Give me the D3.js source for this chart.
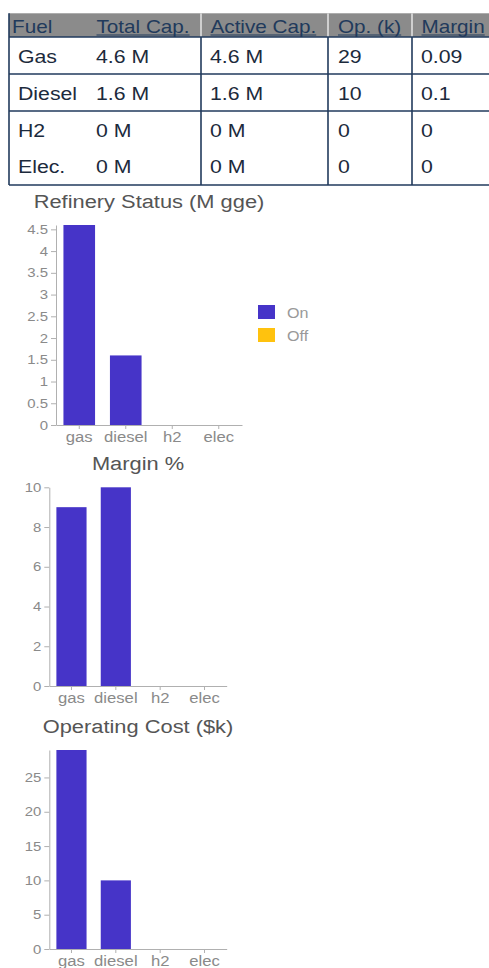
<!DOCTYPE html>
<html>
<head>
<meta charset="utf-8">
<script src="https://cdn.jsdelivr.net/npm/d3@7"></script>
<style>
  html, body { margin: 0; padding: 0; background: #fff; }
  svg { display: block; font-family: "Liberation Sans", Arial, Helvetica, sans-serif; }
</style>
</head>
<body>
<svg id="chart" width="489" height="968"></svg>
<script>
// ---------------- DATA ----------------
const tableHeaders = ["Fuel", "Total Cap.", "Active Cap.", "Op. (k)", "Margin"];
const fuelNames = ["Gas", "Diesel", "H2", "Elec."];
const totalCap = [4.6, 1.6, 0, 0];      // M gge
const activeCap = [4.6, 1.6, 0, 0];     // M gge
const opCost = [29, 10, 0, 0];          // $k
const margin = [0.09, 0.1, 0, 0];       // fraction
const categories = ["gas", "diesel", "h2", "elec"];
const statusKeys = ["On", "Off"];
const refineryTicks = [0, 0.5, 1, 1.5, 2, 2.5, 3, 3.5, 4, 4.5];
const marginTicks = [0, 2, 4, 6, 8, 10];
const costTicks = [0, 5, 10, 15, 20, 25];

// ---------------- STYLE ----------------
const S = 1.15;                 // horizontal text stretch of the reference
const navy = "#213a5c";
const bodyText = "#1c2a3c";
const barColor = "#4634c8";
const offColor = "#ffc20e";
const axisColor = "#b0b0b0";
const tickText = "#8a8a8a";
const titleColor = "#555555";

const svg = d3.select("#chart");
svg.append("rect").attr("width", 489).attr("height", 968).attr("fill", "#fff");

function stretchText(sel, x, y) {
  sel.attr("x", 0).attr("y", 0)
     .attr("transform", `translate(${x},${y}) scale(${S},1)`);
  return sel;
}

// ---------------- TABLE ----------------
const tbl = svg.append("g");
const tLeft = 9, tRight = 489, hTop = 13.3, hBot = 37;
const rowBounds = [37, 74, 111, 148, 185];
const rowBaselines = [63.3, 100, 136.7, 173.3];
const colLines = [201, 328, 412];
const headX = [12, 96.5, 210.5, 338, 421.5];
const bodyX = [18, 96, 210, 338, 421];

tbl.append("rect").attr("x", tLeft).attr("y", hTop)
  .attr("width", tRight - tLeft).attr("height", hBot - hTop).attr("fill", "#8b8b8b");
colLines.forEach(x => tbl.append("line")
  .attr("x1", x).attr("x2", x).attr("y1", hTop).attr("y2", hBot)
  .attr("stroke", "#cfcfcf").attr("stroke-width", 2));

tableHeaders.forEach((h, i) => {
  const t = stretchText(tbl.append("text").attr("font-size", 18).attr("fill", navy).text(h), headX[i], 33.3);
  if (i > 0) {
    const w = t.node().getComputedTextLength() * S;
    tbl.append("line").attr("x1", headX[i]).attr("x2", headX[i] + w)
      .attr("y1", 35).attr("y2", 35).attr("stroke", navy).attr("stroke-width", 1);
  }
});

const fmtM = v => `${d3.format("~g")(v)} M`;
const rows = fuelNames.map((f, i) => [f, fmtM(totalCap[i]), fmtM(activeCap[i]), String(opCost[i]), d3.format("~g")(margin[i])]);
rows.forEach((r, ri) => {
  r.forEach((c, ci) => {
    stretchText(tbl.append("text").attr("font-size", 18.5).attr("fill", bodyText).text(c), bodyX[ci], rowBaselines[ri]);
  });
});

// table borders
const border = (x1, y1, x2, y2) => tbl.append("line")
  .attr("x1", x1).attr("y1", y1).attr("x2", x2).attr("y2", y2)
  .attr("stroke", navy).attr("stroke-width", 1.6);
[rowBounds[0], rowBounds[1], rowBounds[2], rowBounds[4]].forEach(y => border(tLeft, y, tRight, y));
border(tLeft, hTop, tLeft, rowBounds[4]);
colLines.forEach(x => border(x, rowBounds[0], x, rowBounds[4]));

// ---------------- CHARTS ----------------
function drawChart(cfg) {
  const g = svg.append("g");
  const x = d3.scaleBand().domain(categories).range(cfg.xr).paddingInner(0.32).paddingOuter(0.16);
  const y = d3.scaleLinear().domain([0, cfg.max]).range(cfg.yr);

  stretchText(g.append("text").attr("text-anchor", "middle").attr("font-size", 19)
    .attr("fill", titleColor).text(cfg.title), (cfg.xr[0] + cfg.xr[1]) / 2, cfg.titleY);

  // bars (stacked series)
  const stack = d3.stack().keys(cfg.keys)(cfg.data);
  stack.forEach((layer, li) => {
    g.append("g").attr("fill", cfg.colors[li]).selectAll("rect")
      .data(layer).join("rect")
      .attr("x", d => x(d.data.cat))
      .attr("width", x.bandwidth())
      .attr("y", d => y(d[1]))
      .attr("height", d => Math.max(0, y(d[0]) - y(d[1])));
  });

  const ya = g.append("g").attr("transform", `translate(${cfg.xr[0]},0)`)
    .call(d3.axisLeft(y).tickValues(cfg.ticks).tickFormat(d3.format("~g")).tickSize(5).tickSizeOuter(0).tickPadding(2));
  ya.selectAll(".tick text").attr("transform", `scale(${S},1)`).attr("font-size", 13).attr("fill", tickText);
  ya.selectAll("line,path").attr("stroke", axisColor);

  const xa = g.append("g").attr("transform", `translate(0,${cfg.yr[0]})`)
    .call(d3.axisBottom(x).tickSize(4).tickSizeOuter(0).tickPadding(3));
  xa.selectAll(".tick text").attr("transform", `scale(${S},1)`).attr("font-size", 14.5).attr("fill", tickText);
  xa.selectAll("line,path").attr("stroke", axisColor);
  [ya, xa].forEach(a => a.attr("font-family", null));

  if (cfg.legend) {
    cfg.keys.forEach((k, i) => {
      const ly = cfg.legend.y + i * 23;
      g.append("rect").attr("x", cfg.legend.x).attr("y", ly).attr("width", 17).attr("height", 14)
        .attr("fill", cfg.colors[i]);
      stretchText(g.append("text").attr("font-size", 14).attr("fill", "#999").text(k), cfg.legend.x + 29, ly + 12.5);
    });
  }
}

drawChart({
  title: "Refinery Status (M gge)", titleY: 208,
  xr: [56, 242], yr: [425, 225], max: d3.max(totalCap), ticks: refineryTicks,
  keys: statusKeys, colors: [barColor, offColor],
  data: categories.map((c, i) => ({ cat: c, On: activeCap[i], Off: totalCap[i] - activeCap[i] })),
  legend: { x: 258, y: 305 }
});

drawChart({
  title: "Margin %", titleY: 470,
  xr: [49.3, 226.7], yr: [686, 487.3], max: 10, ticks: marginTicks,
  keys: ["v"], colors: [barColor],
  data: categories.map((c, i) => ({ cat: c, v: margin[i] * 100 }))
});

drawChart({
  title: "Operating Cost ($k)", titleY: 732.7,
  xr: [49.3, 226.7], yr: [949, 750], max: d3.max(opCost), ticks: costTicks,
  keys: ["v"], colors: [barColor],
  data: categories.map((c, i) => ({ cat: c, v: opCost[i] }))
});
</script>
</body>
</html>
